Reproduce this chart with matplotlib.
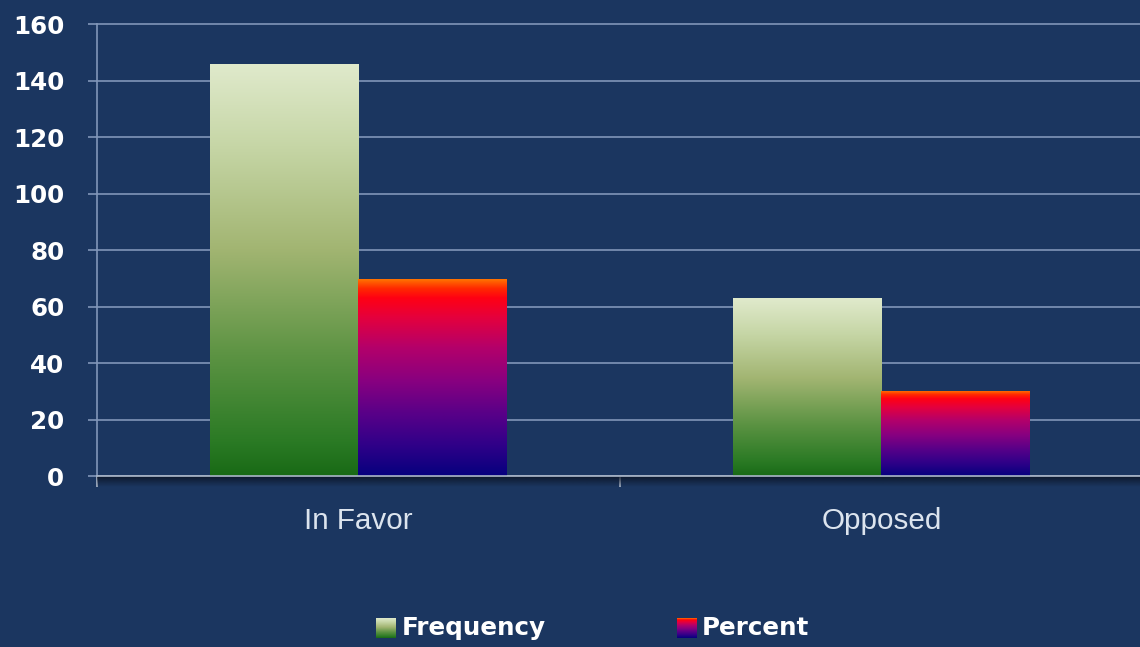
import numpy as np
import matplotlib
matplotlib.use("Agg")
import matplotlib.pyplot as plt
from matplotlib.colors import LinearSegmentedColormap

categories = ["In Favor", "Opposed"]
frequency = [146, 63]
percent = [69.9, 30.1]
series_names = ["Frequency", "Percent"]
yticks = [0, 20, 40, 60, 80, 100, 120, 140, 160]

bg = "#1b3660"
grid_col = "#8196b8"

# bottom -> top gradients
freq_cmap = LinearSegmentedColormap.from_list("freq", [
    (0.0, "#196a16"), (0.08, "#2a7a24"), (0.3, "#5e9444"),
    (0.55, "#a2b572"), (0.8, "#c6d6a6"), (1.0, "#e0eacc")])
pct_cmap = LinearSegmentedColormap.from_list("pct", [
    (0.0, "#06007e"), (0.15, "#2e0088"), (0.32, "#5a0088"),
    (0.48, "#880080"), (0.65, "#b4006a"), (0.8, "#e4003e"),
    (0.9, "#ff0014"), (0.95, "#ff2a00"), (1.0, "#ff7a00")])

fig = plt.figure(figsize=(11.4, 6.47), dpi=100)
fig.patch.set_facecolor(bg)
ax = fig.add_axes([97 / 1140, 1 - 476 / 647, 1046 / 1140, 452 / 647])
ax.set_facecolor(bg)

x = np.arange(len(categories))
w = 0.283
grad = np.linspace(0, 1, 256).reshape(-1, 1)

for vals, offset, cmap in [(frequency, -w / 2, freq_cmap), (percent, w / 2, pct_cmap)]:
    bars = ax.bar(x + offset, vals, w, color="none", edgecolor="none", zorder=3)
    for b in bars:
        x0, y0 = b.get_x(), b.get_y()
        im = ax.imshow(grad, cmap=cmap, origin="lower", aspect="auto",
                       extent=[x0, x0 + b.get_width(), y0, y0 + b.get_height()],
                       zorder=3, interpolation="bilinear")
        im.set_clip_path(b)

# soft shadow under the category axis
shadow = np.zeros((32, 2, 4))
shadow[..., :3] = np.array([12, 20, 36]) / 255
shadow[..., 3] = np.linspace(0.0, 0.85, 32).reshape(-1, 1)
ax.imshow(shadow, origin="lower", aspect="auto", extent=[-0.5, 1.5, -3.8, 0],
          zorder=1, clip_on=False)
ax.set_xlim(-0.5, 1.5)
ax.set_ylim(0, 160)

ax.set_yticks(yticks)
ax.yaxis.grid(True, color=grid_col, linewidth=1.2, zorder=0)
ax.set_axisbelow(True)
for gl in ax.get_ygridlines():
    gl.set_clip_on(False)

for s in ["top", "right"]:
    ax.spines[s].set_visible(False)
ax.spines["left"].set_color(grid_col)
ax.spines["left"].set_linewidth(1.2)
ax.spines["bottom"].set_color("#aab6c8")
ax.spines["bottom"].set_linewidth(1.2)
ax.spines["bottom"].set_zorder(4)

ax.tick_params(axis="y", length=6.5, width=1.2, color=grid_col, pad=17,
               labelsize=17.7, labelcolor="white")
for lab in ax.get_yticklabels():
    lab.set_fontweight("bold")

ax.set_xticks(x)
ax.set_xticklabels(categories, fontsize=21.3, color="#dce4ee",
                   fontfamily="Liberation Sans")
ax.set_xticks([-0.5, 0.5, 1.5], minor=True)
ax.tick_params(axis="x", which="major", length=0, pad=22)
ax.tick_params(axis="x", which="minor", length=8, width=1.2, color="#aab6c8")

# legend with gradient swatches
for name, cmap, sx, tx in [(series_names[0], freq_cmap, 376, 402),
                           (series_names[1], pct_cmap, 677, 702)]:
    sw = fig.add_axes([sx / 1140, 1 - 638 / 647, 20 / 1140, 20 / 647])
    sw.imshow(grad, cmap=cmap, origin="lower", aspect="auto")
    sw.axis("off")
    fig.text(tx / 1140, 1 - 628 / 647, name, color="white", fontsize=17.7,
             fontweight="bold", va="center", ha="left")

fig.savefig("out.png", dpi=100, facecolor=bg)
